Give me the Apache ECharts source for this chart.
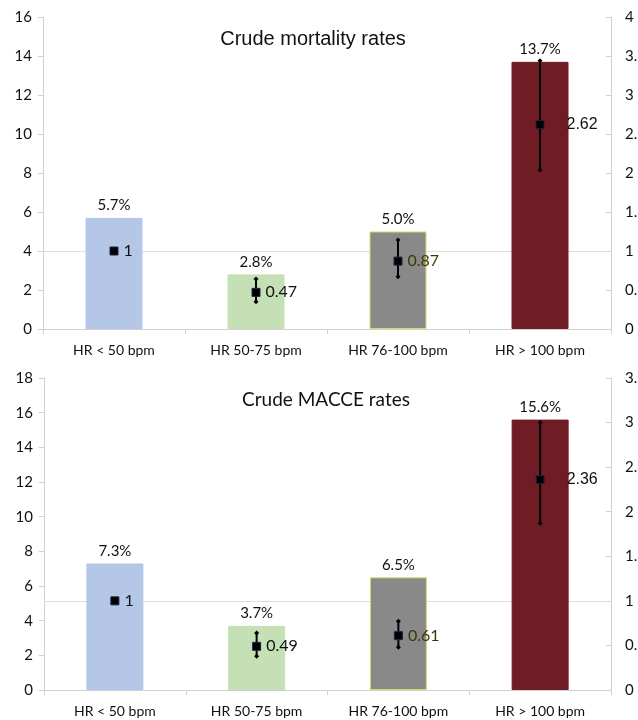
<!DOCTYPE html>
<html>
<head>
<meta charset="utf-8">
<script src="https://cdn.jsdelivr.net/npm/echarts@6/dist/echarts.min.js"></script>
<style>
  html, body { margin: 0; padding: 0; background: #fff; }
  #chart { width: 638px; height: 720px; }
</style>
</head>
<body>
<div id="chart"></div>
<script>
// categories shared by both panels
const categories = ['HR < 50 bpm', 'HR 50-75 bpm', 'HR 76-100 bpm', 'HR > 100 bpm'];

// top panel: crude mortality (%), hazard ratio with CI
const mortalityRates = [5.7, 2.8, 5.0, 13.7];
const mortalityHR = [1, 0.47, 0.87, 2.62];
const mortalityLow = [null, 0.35, 0.67, 2.04];
const mortalityHigh = [null, 0.64, 1.14, 3.44];

// bottom panel: crude MACCE (%), hazard ratio with CI
const macceRates = [7.3, 3.7, 6.5, 15.6];
const macceHR = [1, 0.49, 0.61, 2.36];
const macceLow = [null, 0.38, 0.48, 1.87];
const macceHigh = [null, 0.64, 0.77, 3.0];

// reference hazard ratio
const refHR = 1;

const barColors = ['#b4c7e7', '#c5e0b4', '#898989', '#701c25'];
const calibri = 'Lato, "Open Sans", sans-serif';
const arial = '"Liberation Sans", Arial, sans-serif';

const chart = echarts.init(document.getElementById('chart'));

function xAxisFor(gridIndex) {
  return {
    type: 'category',
    gridIndex: gridIndex,
    data: categories,
    axisLine: { lineStyle: { color: '#d0d0d0' } },
    axisTick: { show: true, length: 5, lineStyle: { color: '#d0d0d0' } },
    axisLabel: { color: '#111', fontSize: 14, fontFamily: calibri, margin: 14 }
  };
}

function leftAxis(gridIndex, max) {
  return {
    type: 'value', gridIndex: gridIndex, position: 'left',
    min: 0, max: max, interval: 2,
    axisLine: { show: true, lineStyle: { color: '#d0d0d0' } },
    axisTick: { show: true, length: 5, lineStyle: { color: '#d0d0d0' } },
    splitLine: { show: false },
    axisLabel: { color: '#111', fontSize: 15, fontFamily: calibri, margin: 11 }
  };
}

function rightAxis(gridIndex, max) {
  return {
    type: 'value', gridIndex: gridIndex, position: 'right',
    min: 0, max: max, interval: 0.5,
    axisLine: { show: true, lineStyle: { color: '#d0d0d0' } },
    axisTick: { show: true, inside: true, length: 5, lineStyle: { color: '#d0d0d0' } },
    splitLine: { show: false },
    axisLabel: { color: '#111', fontSize: 15, fontFamily: calibri, margin: 14 }
  };
}

function refLineSeries(axisIdx) {
  return {
    type: 'line',
    xAxisIndex: axisIdx, yAxisIndex: axisIdx * 2 + 1,
    data: [],
    z: 1,
    markLine: {
      silent: true, symbol: 'none', label: { show: false },
      z: 1,
      lineStyle: { color: '#dddddd', width: 1, type: 'solid' },
      data: [{ yAxis: refHR }]
    }
  };
}

function barSeries(axisIdx, rates) {
  return {
    type: 'bar',
    xAxisIndex: axisIdx, yAxisIndex: axisIdx * 2,
    barWidth: 57,
    data: rates.map((v, i) => ({
      value: v,
      itemStyle: {
        color: barColors[i],
        borderColor: i === 2 ? '#d9d96a' : barColors[i],
        borderWidth: 1
      }
    })),
    label: {
      show: true, position: 'top', distance: 5,
      color: '#111', fontSize: 15, fontFamily: calibri,
      formatter: p => p.value.toFixed(1) + '%'
    },
    z: 2
  };
}

function errorSeries(axisIdx, low, high) {
  return {
    type: 'custom',
    xAxisIndex: axisIdx, yAxisIndex: axisIdx * 2 + 1,
    data: low.map((l, i) => [i, l, high[i]]).filter(d => d[1] != null),
    renderItem: function (params, api) {
      const top = api.coord([api.value(0), api.value(2)]);
      const bot = api.coord([api.value(0), api.value(1)]);
      const d = 2.5;
      const diamond = c => ({
        type: 'polygon',
        shape: { points: [[c[0], c[1] - d], [c[0] + d, c[1]], [c[0], c[1] + d], [c[0] - d, c[1]]] },
        style: { fill: '#000' }
      });
      return {
        type: 'group',
        children: [
          { type: 'line', shape: { x1: top[0], y1: top[1], x2: bot[0], y2: bot[1] },
            style: { stroke: '#000', lineWidth: 2 } },
          diamond(top), diamond(bot)
        ]
      };
    },
    z: 3
  };
}

function pointSeries(axisIdx, hr) {
  return {
    type: 'scatter',
    xAxisIndex: axisIdx, yAxisIndex: axisIdx * 2 + 1,
    symbol: 'rect',
    symbolSize: 8,
    itemStyle: { color: '#000', borderColor: '#222244', borderWidth: 1, opacity: 1 },
    data: hr.map((v, i) => ({
      value: v,
      label: {
        show: true, position: 'right',
        distance: i === 3 ? 22 : 5,
        fontSize: 16,
        fontFamily: i === 3 ? arial : calibri,
        color: i === 2 ? '#3a3a00' : '#111',
        formatter: String(v)
      }
    })),
    z: 4
  };
}

chart.setOption({
  backgroundColor: '#fff',
  animation: false,
  title: [
    { text: 'Crude mortality rates', left: 308, top: 24, textAlign: 'center',
      textStyle: { fontSize: 20, fontWeight: 'normal', color: '#111', fontFamily: arial } },
    { text: 'Crude MACCE rates', left: 321, top: 385, textAlign: 'center',
      textStyle: { fontSize: 19, fontWeight: 'normal', color: '#111', fontFamily: calibri } }
  ],
  grid: [
    { left: 43, right: 27, top: 17, height: 312, containLabel: false, outerBoundsMode: 'none' },
    { left: 44, right: 27, top: 378, height: 312, containLabel: false, outerBoundsMode: 'none' }
  ],
  xAxis: [xAxisFor(0), xAxisFor(1)],
  yAxis: [leftAxis(0, 16), rightAxis(0, 4), leftAxis(1, 18), rightAxis(1, 3.5)],
  series: [
    refLineSeries(0),
    barSeries(0, mortalityRates),
    errorSeries(0, mortalityLow, mortalityHigh),
    pointSeries(0, mortalityHR),
    refLineSeries(1),
    barSeries(1, macceRates),
    errorSeries(1, macceLow, macceHigh),
    pointSeries(1, macceHR)
  ]
});
</script>
</body>
</html>
